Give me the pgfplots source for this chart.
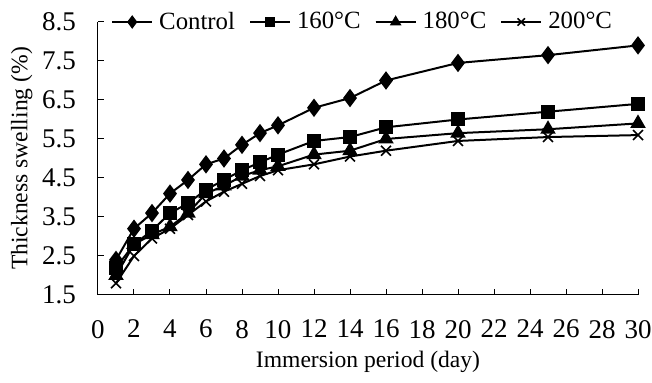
\documentclass[border=0pt]{standalone}
\usepackage{pgfplots}
\pgfplotsset{compat=1.18}
\usepackage{fontspec}
\setmainfont{Liberation Serif}
\begin{document}
\begin{tikzpicture}
\begin{axis}[
  name=ax,
  width=270pt, height=136.5pt, scale only axis,
  xmin=0, xmax=30, ymin=1.5, ymax=8.5,
  xtick={0,2,...,30}, ytick={1.5,2.5,...,8.5},
  yticklabels={1.5,2.5,3.5,4.5,5.5,6.5,7.5,8.5},
  axis x line*=bottom, axis y line*=left,
  axis line style={line width=0.5pt,-},
  tick style={black,line width=0.5pt},
  tick align=inside, major tick length=3pt,
  font=\fontsize{13.5}{15}\selectfont,
  /pgf/number format/assume math mode=true,
  yticklabel style={xshift=-7.5pt},
  xticklabel style={yshift=-9pt},
  xlabel={Immersion period (day)},
  ylabel={Thickness swelling (\%)},
  xlabel style={font=\fontsize{11.8}{13}\selectfont, yshift=0.5pt},
  ylabel style={font=\fontsize{11.8}{13}\selectfont, yshift=-2pt},
  legend columns=4,
  legend style={draw=none, fill=white, fill opacity=1, at={(0.49,1)}, anchor=center,
    inner sep=1pt,
    nodes={inner xsep=1pt},
    font=\fontsize{12.4}{14}\selectfont,
    /tikz/every odd column/.append style={column sep=2pt},
    /tikz/every even column/.append style={column sep=6pt}},
  legend image code/.code={
    \draw[#1] (0pt,0pt) -- (20pt,0pt);
    \draw[#1,mark repeat=2,mark phase=2] plot coordinates {(0pt,0pt) (10pt,0pt) (20pt,0pt)};
  },
  clip=false,
]
\addplot[black, line width=1pt, mark=diamond*, mark size=3.8pt, mark options={solid,fill=black},
  legend image post style={mark size=2.6pt}] coordinates {
(1,2.4)(2,3.2)(3,3.6)(4,4.1)(5,4.45)(6,4.85)(7,5.0)(8,5.35)(9,5.65)(10,5.85)(12,6.3)(14,6.55)(16,7.0)(20,7.45)(25,7.65)(30,7.9)};
\addlegendentry{Control}
\addplot[black, line width=1pt, mark=square*, mark size=3pt, mark options={solid,fill=black},
  legend image post style={mark size=2pt}] coordinates {
(1,2.2)(2,2.8)(3,3.15)(4,3.6)(5,3.85)(6,4.2)(7,4.45)(8,4.7)(9,4.9)(10,5.1)(12,5.45)(14,5.55)(16,5.8)(20,6.0)(25,6.2)(30,6.4)};
\addlegendentry{160°C}
\addplot[black, line width=1pt, mark=triangle*, mark size=3.5pt, mark options={solid,fill=black},
  legend image post style={mark size=2.4pt}] coordinates {
(1,2.0)(2,2.8)(3,3.05)(4,3.25)(5,3.6)(6,4.1)(7,4.3)(8,4.55)(9,4.7)(10,4.8)(12,5.1)(14,5.2)(16,5.5)(20,5.65)(25,5.75)(30,5.9)};
\addlegendentry{180°C}
\addplot[black, line width=1pt, mark=x, mark size=3.5pt, mark options={solid,line width=0.8pt},
  legend image post style={mark size=2.6pt}] coordinates {
(1,1.8)(2,2.5)(3,2.95)(4,3.2)(5,3.55)(6,3.9)(7,4.15)(8,4.35)(9,4.55)(10,4.7)(12,4.85)(14,5.05)(16,5.2)(20,5.45)(25,5.55)(30,5.6)};
\addlegendentry{200°C}
\end{axis}
\pgfresetboundingbox
\path ([shift={(-49pt,-44pt)}]ax.south west) rectangle ([shift={(7pt,11pt)}]ax.north east);
\end{tikzpicture}
\end{document}
